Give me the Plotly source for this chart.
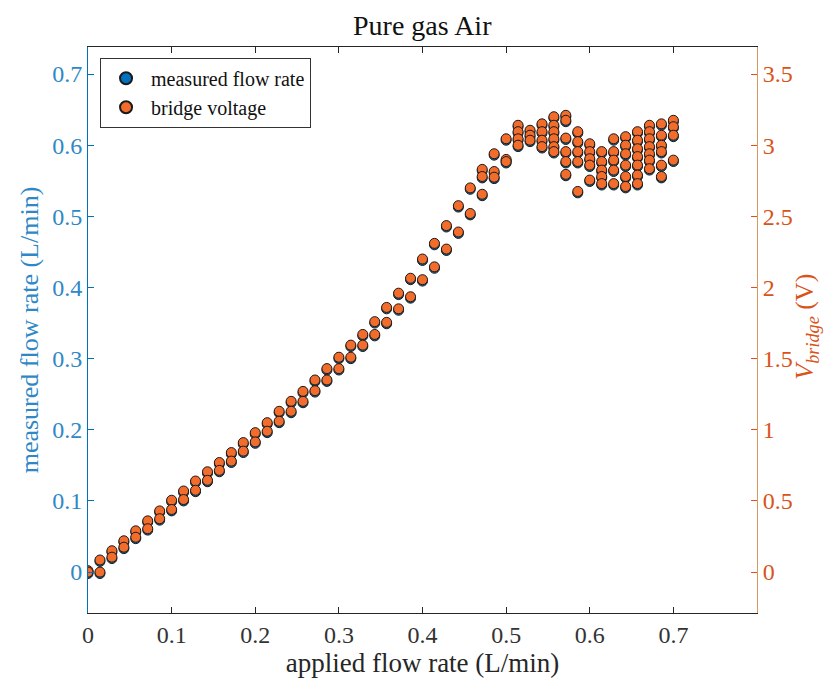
import plotly.graph_objects as go

# applied flow rate set points (L/min)
applied_flow = [0, 0.0143, 0.0286, 0.0429, 0.0571, 0.0714, 0.0857, 0.1, 0.1143, 0.1286,
                0.1429, 0.1571, 0.1714, 0.1857, 0.2, 0.2143, 0.2286, 0.2429, 0.2571, 0.2714,
                0.2857, 0.3, 0.3143, 0.3286, 0.3429, 0.3571, 0.3714, 0.3857, 0.4, 0.4143,
                0.4286, 0.4429, 0.4571, 0.4714, 0.4857, 0.5, 0.5143, 0.5286, 0.5429, 0.5571,
                0.5714, 0.5857, 0.6, 0.6143, 0.6286, 0.6429, 0.6571, 0.6714, 0.6857, 0.7]

# measured flow rate (L/min), repeated readings per set point
measured_flow = [
    [0.000, -0.002], [0.015, -0.002], [0.028, 0.019], [0.042, 0.033], [0.056, 0.047],
    [0.070, 0.059], [0.084, 0.073], [0.099, 0.086], [0.112, 0.100], [0.126, 0.113],
    [0.139, 0.127], [0.152, 0.141], [0.166, 0.154], [0.180, 0.168], [0.194, 0.181],
    [0.208, 0.196], [0.224, 0.210], [0.238, 0.224], [0.252, 0.238], [0.268, 0.253],
    [0.284, 0.268], [0.300, 0.284], [0.317, 0.300], [0.332, 0.317], [0.350, 0.332],
    [0.370, 0.349], [0.390, 0.368], [0.411, 0.385], [0.438, 0.409], [0.460, 0.427],
    [0.485, 0.452], [0.513, 0.476], [0.538, 0.502], [0.564, 0.554, 0.529],
    [0.586, 0.561, 0.553], [0.607, 0.578, 0.575], [0.626, 0.617, 0.607, 0.598],
    [0.619, 0.612, 0.605], [0.628, 0.617, 0.605, 0.596],
    [0.638, 0.626, 0.617, 0.607, 0.596, 0.589],
    [0.640, 0.633, 0.608, 0.589, 0.575, 0.557],
    [0.617, 0.603, 0.589, 0.575, 0.533],
    [0.600, 0.589, 0.579, 0.570, 0.549],
    [0.589, 0.575, 0.563, 0.554, 0.544],
    [0.607, 0.589, 0.577, 0.563, 0.544],
    [0.610, 0.598, 0.586, 0.570, 0.554, 0.540],
    [0.617, 0.605, 0.593, 0.582, 0.570, 0.556, 0.544],
    [0.626, 0.617, 0.607, 0.596, 0.586, 0.577, 0.565],
    [0.628, 0.612, 0.598, 0.589, 0.570, 0.554],
    [0.633, 0.624, 0.612, 0.577],
]

# bridge voltage (V), repeated readings per set point
bridge_voltage = [
    [0.01, 0.00], [0.085, 0.00], [0.15, 0.105], [0.22, 0.175], [0.29, 0.245],
    [0.36, 0.305], [0.43, 0.375], [0.505, 0.44], [0.57, 0.51], [0.64, 0.575],
    [0.705, 0.645], [0.77, 0.715], [0.84, 0.78], [0.91, 0.85], [0.98, 0.915],
    [1.05, 0.99], [1.13, 1.06], [1.20, 1.13], [1.27, 1.20], [1.35, 1.275],
    [1.43, 1.35], [1.51, 1.43], [1.595, 1.51], [1.67, 1.595], [1.76, 1.67],
    [1.86, 1.755], [1.96, 1.85], [2.065, 1.935], [2.20, 2.055], [2.31, 2.145],
    [2.435, 2.27], [2.575, 2.39], [2.70, 2.52], [2.83, 2.78, 2.655],
    [2.94, 2.815, 2.775], [3.045, 2.90, 2.885], [3.14, 3.095, 3.045, 3.00],
    [3.105, 3.07, 3.035], [3.15, 3.095, 3.035, 2.99],
    [3.20, 3.14, 3.095, 3.045, 2.99, 2.955],
    [3.21, 3.175, 3.05, 2.955, 2.885, 2.795],
    [3.095, 3.025, 2.955, 2.885, 2.675],
    [3.01, 2.955, 2.905, 2.86, 2.755],
    [2.955, 2.885, 2.825, 2.78, 2.73],
    [3.045, 2.955, 2.895, 2.825, 2.73],
    [3.06, 3.00, 2.94, 2.86, 2.78, 2.71],
    [3.095, 3.035, 2.975, 2.92, 2.86, 2.79, 2.73],
    [3.14, 3.095, 3.045, 2.99, 2.94, 2.895, 2.835],
    [3.15, 3.07, 3.00, 2.955, 2.86, 2.78],
    [3.175, 3.13, 3.07, 2.895],
]

x_ticks = [0, 0.1, 0.2, 0.3, 0.4, 0.5, 0.6, 0.7]
x_ticklabels = ["0", "0.1", "0.2", "0.3", "0.4", "0.5", "0.6", "0.7"]
yl_ticks = [0, 0.1, 0.2, 0.3, 0.4, 0.5, 0.6, 0.7]
yl_ticklabels = ["0", "0.1", "0.2", "0.3", "0.4", "0.5", "0.6", "0.7"]
yr_ticks = [0, 0.5, 1, 1.5, 2, 2.5, 3, 3.5]
yr_ticklabels = ["0", "0.5", "1", "1.5", "2", "2.5", "3", "3.5"]


def flatten(xs, nested):
    fx, fy = [], []
    for xv, vals in zip(xs, nested):
        for v in vals:
            fx.append(xv)
            fy.append(v)
    return fx, fy


fx1, fy1 = flatten(applied_flow, measured_flow)
fx2, fy2 = flatten(applied_flow, bridge_voltage)

FONT = "Liberation Serif"
BLUE = "#0072BD"
BLUE_TXT = "#2f88c6"
ORANGE = "#D95319"
ORANGE_FILL = "#F26D2C"

fig = go.Figure()
fig.add_trace(go.Scatter(
    x=fx1, y=fy1, mode="markers", name="measured flow rate",
    marker=dict(size=10, color=BLUE, line=dict(color="#1a1a1a", width=1)),
    yaxis="y",
))
fig.add_trace(go.Scatter(
    x=fx2, y=fy2, mode="markers", name="bridge voltage",
    marker=dict(size=10, color=ORANGE_FILL, line=dict(color="#1a1a1a", width=1)),
    yaxis="y2",
))

fig.update_layout(
    width=828, height=682,
    margin=dict(l=88, r=71, t=47, b=69),
    paper_bgcolor="white", plot_bgcolor="white",
    font=dict(family=FONT, size=22, color="#262626"),
    title=dict(text="Pure gas Air", x=0.51, xanchor="center", y=0.963, yanchor="middle",
               font=dict(family=FONT, size=28, color="#111111")),
    showlegend=True,
    legend=dict(x=0.018, y=0.981, xanchor="left", yanchor="top",
                bgcolor="white", bordercolor="#333333", borderwidth=1,
                font=dict(family=FONT, size=20, color="#111111"),
                itemsizing="constant", itemwidth=40, tracegroupgap=0),
    xaxis=dict(
        range=[0, 0.8], tickvals=x_ticks, ticktext=x_ticklabels,
        showgrid=False, zeroline=False, automargin=False,
        showline=True, linecolor="#262626", linewidth=1, mirror="ticks",
        ticks="inside", ticklen=6, tickcolor="#262626",
        tickfont=dict(family=FONT, size=24, color="#333333"),
        title=dict(text="applied flow rate (L/min)", standoff=6,
                   font=dict(family=FONT, size=27, color="#262626")),
    ),
    yaxis=dict(
        range=[-0.0575, 0.738], tickvals=yl_ticks, ticktext=yl_ticklabels,
        showgrid=False, zeroline=False, automargin=False,
        showline=True, linecolor=BLUE, linewidth=1,
        ticks="inside", ticklen=6, tickcolor=BLUE,
        tickfont=dict(family=FONT, size=24, color=BLUE_TXT),
        title=dict(text="measured flow rate (L/min)", standoff=6,
                   font=dict(family=FONT, size=26, color=BLUE_TXT)),
    ),
    yaxis2=dict(
        range=[-0.2875, 3.69], tickvals=yr_ticks, ticktext=yr_ticklabels,
        overlaying="y", side="right",
        showgrid=False, zeroline=False, automargin=False,
        showline=True, linecolor="#d9975f", linewidth=1,
        ticks="inside", ticklen=6, tickcolor=ORANGE,
        tickfont=dict(family=FONT, size=24, color=ORANGE),
    ),
    annotations=[dict(
        text="<i>V</i><sub><i>bridge</i></sub> (V)", textangle=-90,
        xref="paper", yref="paper", x=1.074, y=0.505,
        xanchor="center", yanchor="middle", showarrow=False,
        font=dict(family=FONT, size=26, color=ORANGE),
    )],
)

fig.write_html("out.html")
